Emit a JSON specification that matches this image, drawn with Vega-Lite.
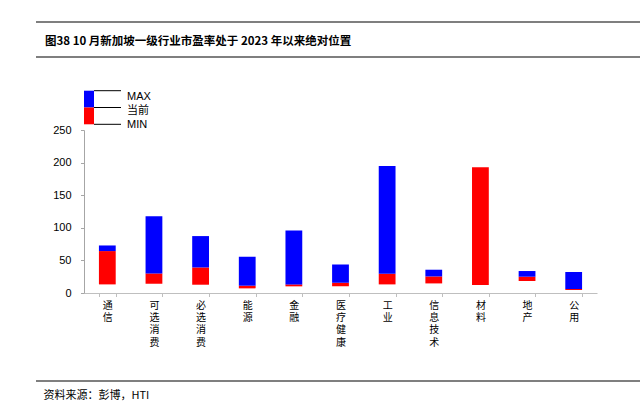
{
  "$schema": "https://vega.github.io/schema/vega-lite/v6.json",
  "padding": {"left": 35, "top": 21, "right": 0, "bottom": 0},
  "background": "#ffffff",
  "config": {"view": {"stroke": null}, "font": "Noto Sans CJK SC"},
  "bounds": "full",
  "spacing": 32,
  "vconcat": [
    {
      "width": 605,
      "height": 35,
      "title": {
        "text": "图38 10 月新加坡一级行业市盈率处于 2023 年以来绝对位置",
        "anchor": "start", "orient": "top", "offset": -26, "dx": 10,
        "fontSize": 11.5, "fontWeight": "bold", "font": "Noto Sans CJK SC", "color": "#000000"
      },
      "data": {"values": [{"edge": "top"}, {"edge": "bottom"}]},
      "mark": {"type": "rule", "color": "#7f7f7f", "strokeWidth": 2},
      "encoding": {
        "y": {"field": "edge", "type": "nominal", "scale": {"type": "point", "domain": ["top", "bottom"], "padding": 0}, "axis": null}
      }
    },
    {
      "bounds": "flush",
      "spacing": 0,
      "hconcat": [
        {"width": 48, "height": 1, "data": {"values": []}, "mark": "point"},
        {
          "width": 513,
          "height": 163,
          "resolve": {"scale": {"x": "independent", "y": "independent"}},
          "layer": [
            {
              "data": {"values": [
                {"industry": "通信", "min": 13.2, "current": 64.3, "max": 72.9},
                {"industry": "可选消费", "min": 14.2, "current": 30.0, "max": 117.9},
                {"industry": "必选消费", "min": 12.7, "current": 39.2, "max": 87.3},
                {"industry": "能源", "min": 7.1, "current": 11.2, "max": 55.6},
                {"industry": "金融", "min": 10.2, "current": 13.2, "max": 95.8},
                {"industry": "医疗健康", "min": 10.2, "current": 15.8, "max": 43.8},
                {"industry": "工业", "min": 13.2, "current": 29.5, "max": 194.9},
                {"industry": "信息技术", "min": 14.7, "current": 25.4, "max": 35.7},
                {"industry": "材料", "min": 12.2, "current": 193.0, "max": 193.0},
                {"industry": "地产", "min": 18.4, "current": 25.0, "max": 33.7},
                {"industry": "公用", "min": 4.6, "current": 6.1, "max": 32.2}
              ]},
              "encoding": {
                "x": {
                  "field": "industry", "type": "nominal", "sort": null,
                  "scale": {"paddingInner": 0.64, "paddingOuter": 0.32},
                  "axis": {
                    "title": null, "labelAngle": 0, "labelExpr": "split(datum.label, '')",
                    "labelFont": "Noto Sans CJK SC", "labelFontSize": 10, "labelLineHeight": 12.2,
                    "labelColor": "#000000", "labelBaseline": "top", "labelAlign": "center",
                    "labelPadding": 4, "labelOverlap": false, "tickBand": "extent", "tickSize": 3.5,
                    "tickColor": "#bfbfbf", "domainColor": "#bfbfbf"
                  }
                },
                "y": {
                  "field": "min", "type": "quantitative", "scale": {"domain": [0, 250], "nice": false},
                  "axis": {
                    "values": [0, 50, 100, 150, 200, 250], "tickCount": 6, "labelOverlap": false, "title": null, "grid": false,
                    "domainColor": "#a6a6a6", "tickColor": "#a6a6a6", "tickSize": 3.5, "labelPadding": 9.5,
                    "labelFont": "Liberation Sans", "labelFontSize": 11, "labelColor": "#000000"
                  }
                }
              },
              "layer": [
                {
                  "mark": {"type": "bar", "color": "#FF0000"},
                  "encoding": {
                    "y2": {"field": "current"}
                  }
                },
                {
                  "mark": {"type": "bar", "color": "#0000FF"},
                  "encoding": {
                    "y": {
                      "field": "current", "type": "quantitative", "scale": {"domain": [0, 250], "nice": false},
                      "axis": {
                        "values": [0, 50, 100, 150, 200, 250], "tickCount": 6, "labelOverlap": false, "title": null, "grid": false,
                        "domainColor": "#a6a6a6", "tickColor": "#a6a6a6", "tickSize": 3.5, "labelPadding": 9.5,
                        "labelFont": "Liberation Sans", "labelFontSize": 11, "labelColor": "#000000"
                      }
                    },
                    "y2": {"field": "max"}
                  }
                }
              ]
            },
            {
              "layer": [
                {
                  "data": {"values": [{"segment": "当前-MAX"}]},
                  "mark": {"type": "rect", "fill": "#0000FF"},
                  "encoding": {
                    "x": {"datum": 0, "type": "quantitative", "scale": {"domain": [0, 1], "range": [0, 10], "nice": false, "zero": false}, "axis": null},
                    "x2": {"datum": 1},
                    "y": {"datum": 1, "type": "quantitative", "scale": {"domain": [0, 2], "range": [-5.7, -39.3], "nice": false, "zero": false}, "axis": null},
                    "y2": {"datum": 2}
                  }
                },
                {
                  "data": {"values": [{"segment": "MIN-当前"}]},
                  "mark": {"type": "rect", "fill": "#FF0000"},
                  "encoding": {
                    "x": {"datum": 0, "type": "quantitative"},
                    "x2": {"datum": 1},
                    "y": {"datum": 0, "type": "quantitative"},
                    "y2": {"datum": 1}
                  }
                },
                {
                  "data": {"values": [{"item": "MAX", "level": 2}, {"item": "当前", "level": 1}, {"item": "MIN", "level": 0}]},
                  "mark": {"type": "rule", "color": "#000000", "strokeWidth": 1},
                  "encoding": {
                    "x": {"datum": 1, "type": "quantitative"},
                    "x2": {"datum": 3.7},
                    "y": {"field": "level", "type": "quantitative"}
                  }
                }
              ]
            },
            {
              "data": {"values": [{"item": "MAX", "level": 2}, {"item": "当前", "level": 1}, {"item": "MIN", "level": 0}]},
              "mark": {"type": "text", "align": "left", "baseline": "middle", "fontSize": 11, "font": "Liberation Sans, Noto Sans CJK SC", "color": "#000000"},
              "encoding": {
                "x": {"datum": 4.3, "type": "quantitative", "scale": {"domain": [0, 1], "range": [0, 10], "nice": false, "zero": false}, "axis": null},
                "y": {"field": "level", "type": "quantitative", "scale": {"domain": [0, 2], "range": [-5.3, -33], "nice": false, "zero": false}, "axis": null},
                "text": {"field": "item"}
              }
            }
          ]
        }
      ]
    },
    {
      "width": 605,
      "height": 8,
      "title": {
        "text": "资料来源：彭博，HTI", "orient": "bottom", "anchor": "start", "offset": 1, "dx": 8,
        "fontSize": 11, "fontWeight": "normal", "font": "Noto Sans CJK SC", "color": "#000000"
      },
      "data": {"values": [{"edge": "top"}]},
      "mark": {"type": "rule", "color": "#000000", "strokeWidth": 1.2},
      "encoding": {
        "y": {"field": "edge", "type": "nominal", "scale": {"type": "point", "domain": ["top", "bottom"], "padding": 0}, "axis": null}
      }
    }
  ]
}
